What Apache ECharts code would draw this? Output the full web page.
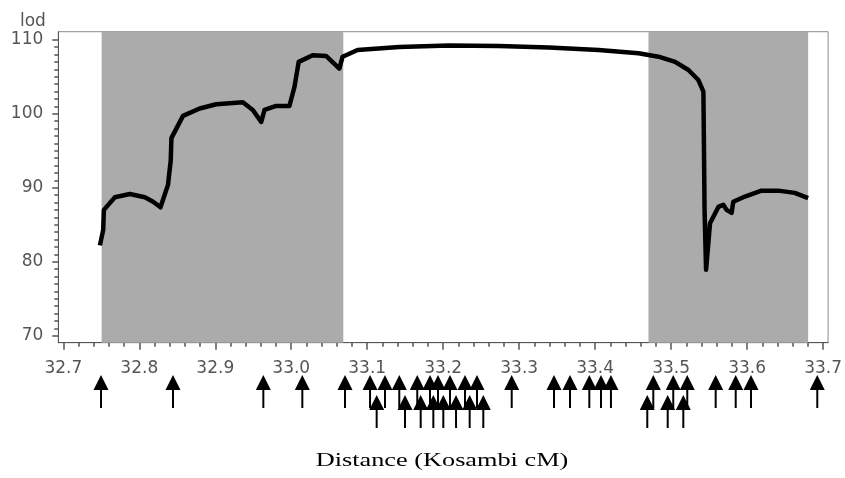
<!DOCTYPE html>
<html>
<head>
<meta charset="utf-8">
<script src="https://cdn.jsdelivr.net/npm/echarts@6/dist/echarts.min.js"></script>
<style>
  html, body { margin: 0; padding: 0; background: #fff; }
  #main { width: 845px; height: 478px; }
</style>
</head>
<body>
<div id="main"></div>
<script>
// lod profile (Kosambi cM vs lod)
var cmPos = [32.7482, 32.7525, 32.7534, 32.7679, 32.7876, 32.8073, 32.8182, 32.8279, 32.8378, 32.8414,
    32.8423, 32.8575, 32.8795, 32.9014, 32.9363, 32.9494, 32.9605, 32.9648, 32.9802, 32.9976,
    33.0042, 33.0098, 33.0282, 33.0458, 33.0633, 33.0676, 33.0873, 33.1420, 33.2077, 33.2733,
    33.3390, 33.4046, 33.4571, 33.4834, 33.5053, 33.5228, 33.5359, 33.5425, 33.5440, 33.5460,
    33.5512, 33.5622, 33.5687, 33.5730, 33.5796, 33.5818, 33.5972, 33.6190, 33.6409, 33.6628,
    33.6803];
var lodVal = [82.2, 84.3, 87.0, 88.7, 89.15, 88.7, 88.1, 87.35, 90.4, 93.7,
    96.7, 99.7, 100.7, 101.27, 101.54, 100.5, 98.9, 100.5, 101.04, 101.04,
    103.6, 107.0, 107.9, 107.8, 106.1, 107.7, 108.6, 109.0, 109.2, 109.15,
    108.95, 108.6, 108.16, 107.7, 107.0, 105.9, 104.55, 102.97, 87.0, 78.9,
    85.2, 87.4, 87.7, 87.0, 86.6, 88.1, 88.8, 89.6, 89.6, 89.3,
    88.6];

// shaded intervals
var shadeFrom = [32.7504, 33.4702];
var shadeTo = [33.0685, 33.6803];

// marker arrows, two rows
var markersTop = [32.7495, 32.8440, 32.9626, 33.0138, 33.0698, 33.1027, 33.1223, 33.1411, 33.1647, 33.1814,
    33.1919, 33.2077, 33.2274, 33.2431, 33.2887, 33.3442, 33.3652, 33.3906, 33.4059, 33.4190,
    33.4746, 33.5008, 33.5192, 33.5565, 33.5828, 33.6029, 33.6899];
var markersLow = [33.1114, 33.1486, 33.1692, 33.1858, 33.1989, 33.2156, 33.2335, 33.2514, 33.4667, 33.4935,
    33.5140];

var xTicks = [32.7, 32.8, 32.9, 33.0, 33.1, 33.2, 33.3, 33.4, 33.5, 33.6, 33.7];
var yTicks = [70, 80, 90, 100, 110];

var xMin = 32.6934, xMax = 33.7066;
var yMin = 69.05, yMax = 111.08;

var xMinor = [];
for (var i = 0; i <= 50; i++) xMinor.push(+(32.7 + i * 0.02).toFixed(2));
var yMinor = [];
for (var j = 70; j <= 110; j++) yMinor.push(j);

var lineData = [];
for (var k = 0; k < cmPos.length; k++) lineData.push([cmPos[k], lodVal[k]]);

var shadeData = [];
for (var s = 0; s < shadeFrom.length; s++) shadeData.push([{xAxis: shadeFrom[s]}, {xAxis: shadeTo[s]}]);

var arrowData = [];
for (var a = 0; a < markersTop.length; a++) arrowData.push([markersTop[a], 0]);
for (var b = 0; b < markersLow.length; b++) arrowData.push([markersLow[b], 1]);

var labelFont = 'DejaVu Sans';
var axisGray = '#555';

var myChart = echarts.init(document.getElementById('main'));
myChart.setOption({
    animation: false,
    title: {
        text: 'lod',
        left: 15,
        top: 8,
        textStyle: {fontFamily: labelFont, fontSize: 17, fontWeight: 'normal', color: axisGray}
    },
    graphic: [{
        type: 'text',
        x: 442,
        y: 452,
        scaleX: 1.46,
        style: {
            text: 'Distance (Kosambi cM)',
            font: '18px "Liberation Serif"',
            fill: '#000',
            textAlign: 'center',
            textVerticalAlign: 'top'
        }
    }],
    grid: [
        {left: 58.3, right: 15, top: 31.7, bottom: 135.3, show: true, borderColor: '#8c8c8c', borderWidth: 1},
        {left: 58.3, right: 15, top: 365, height: 40}
    ],
    xAxis: [
        {
            type: 'value', gridIndex: 0, min: xMin, max: xMax,
            axisLine: {show: true, lineStyle: {color: axisGray, width: 1}},
            axisTick: {show: true, customValues: xTicks, length: 7, lineStyle: {color: axisGray, width: 1.5}},
            axisLabel: {
                customValues: xTicks, margin: 17, fontSize: 17, fontFamily: labelFont, color: axisGray,
                formatter: function (v) { return v.toFixed(1); }
            },
            splitLine: {show: false}
        },
        {
            type: 'value', gridIndex: 0, min: xMin, max: xMax, position: 'bottom',
            axisLine: {show: false},
            axisTick: {show: true, customValues: xMinor, length: 4, lineStyle: {color: axisGray, width: 1.5}},
            axisLabel: {show: false},
            splitLine: {show: false}
        },
        {
            type: 'value', gridIndex: 1, min: xMin, max: xMax, show: false
        }
    ],
    yAxis: [
        {
            type: 'value', gridIndex: 0, min: yMin, max: yMax,
            axisLine: {show: true, lineStyle: {color: axisGray, width: 1}},
            axisTick: {show: true, customValues: yTicks, length: 6, lineStyle: {color: axisGray, width: 1.5}},
            axisLabel: {customValues: yTicks, margin: 15, fontSize: 17, fontFamily: labelFont, color: axisGray},
            splitLine: {show: false}
        },
        {
            type: 'value', gridIndex: 0, min: yMin, max: yMax, position: 'left',
            axisLine: {show: false},
            axisTick: {show: true, customValues: yMinor, length: 4, lineStyle: {color: axisGray, width: 1.5}},
            axisLabel: {show: false},
            splitLine: {show: false}
        },
        {
            type: 'value', gridIndex: 1, min: -0.5, max: 1.5, inverse: true, show: false
        }
    ],
    series: [
        {
            type: 'line',
            xAxisIndex: 0,
            yAxisIndex: 0,
            data: lineData,
            showSymbol: false,
            lineStyle: {color: '#000', width: 4.5, join: 'round'},
            markArea: {
                silent: true,
                itemStyle: {color: '#ababab'},
                data: shadeData
            }
        },
        {
            type: 'custom',
            xAxisIndex: 2,
            yAxisIndex: 2,
            clip: false,
            data: arrowData,
            renderItem: function (params, api) {
                var p = api.coord([api.value(0), api.value(1)]);
                return {
                    type: 'group',
                    children: [
                        {type: 'polygon', shape: {points: [[p[0], p[1]], [p[0] - 7.5, p[1] + 15], [p[0] + 7.5, p[1] + 15]]},
                            style: {fill: '#000'}},
                        {type: 'rect', shape: {x: p[0] - 1, y: p[1] + 14, width: 2, height: 19},
                            style: {fill: '#000'}}
                    ]
                };
            }
        }
    ]
});
</script>
</body>
</html>
